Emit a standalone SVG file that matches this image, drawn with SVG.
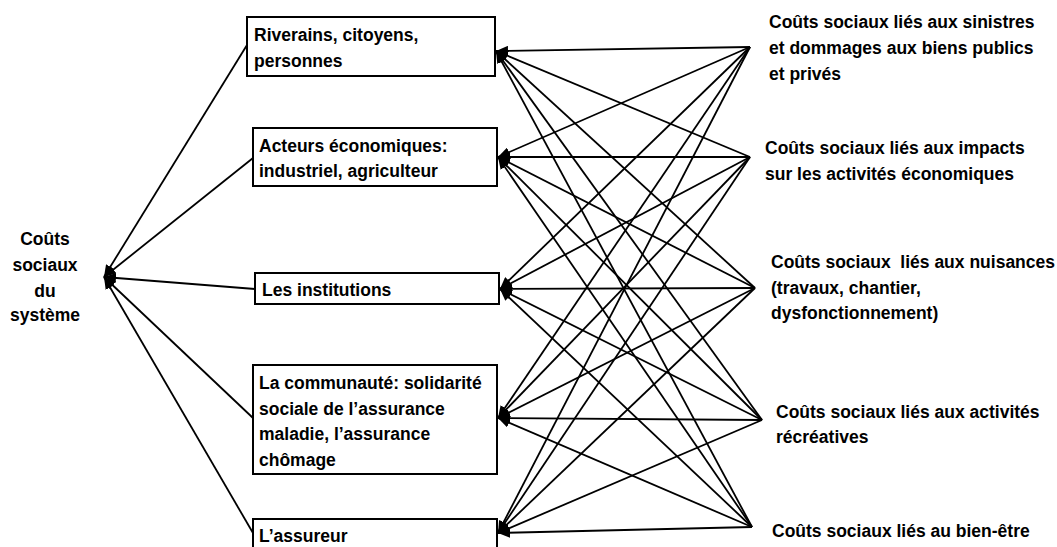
<svg xmlns="http://www.w3.org/2000/svg" width="1057" height="547" viewBox="0 0 1057 547">
<style>
text{font-family:"Liberation Sans",Arial,sans-serif;font-weight:bold;font-size:17.5px;fill:#000}
.box{fill:#fff;stroke:#000;stroke-width:2}
.c line{stroke:#000;stroke-width:1.8;marker-end:url(#ah)}
</style>
<defs>
<marker id="ah" markerUnits="userSpaceOnUse" markerWidth="12" markerHeight="10" refX="12" refY="5" orient="auto">
<path d="M0,0 L12,5 L0,10 z" fill="#000"/>
</marker>
</defs>
<rect width="1057" height="547" fill="#fff"/>
<g id="connectors" class="c">
<line x1="247" y1="45" x2="104" y2="277"/>
<line x1="253" y1="158" x2="104" y2="277"/>
<line x1="255" y1="289" x2="104" y2="277"/>
<line x1="253" y1="418" x2="104" y2="277"/>
<line x1="253" y1="533" x2="104" y2="277"/>
<line x1="750" y1="47" x2="496" y2="51"/>
<line x1="750" y1="47" x2="498" y2="157"/>
<line x1="750" y1="47" x2="500" y2="289"/>
<line x1="750" y1="47" x2="498" y2="418"/>
<line x1="750" y1="47" x2="498" y2="533"/>
<line x1="750" y1="157" x2="496" y2="51"/>
<line x1="750" y1="157" x2="498" y2="157"/>
<line x1="750" y1="157" x2="500" y2="289"/>
<line x1="750" y1="157" x2="498" y2="418"/>
<line x1="750" y1="157" x2="498" y2="533"/>
<line x1="755" y1="288" x2="496" y2="51"/>
<line x1="755" y1="288" x2="498" y2="157"/>
<line x1="755" y1="288" x2="500" y2="289"/>
<line x1="755" y1="288" x2="498" y2="418"/>
<line x1="755" y1="288" x2="498" y2="533"/>
<line x1="762" y1="420" x2="496" y2="51"/>
<line x1="762" y1="420" x2="498" y2="157"/>
<line x1="762" y1="420" x2="500" y2="289"/>
<line x1="762" y1="420" x2="498" y2="418"/>
<line x1="762" y1="420" x2="498" y2="533"/>
<line x1="752" y1="527" x2="496" y2="51"/>
<line x1="752" y1="527" x2="498" y2="157"/>
<line x1="752" y1="527" x2="500" y2="289"/>
<line x1="752" y1="527" x2="498" y2="418"/>
<line x1="752" y1="527" x2="498" y2="533"/>
</g>
<g id="root">
<text text-anchor="middle"><tspan x="45" y="245">Coûts</tspan><tspan x="45" y="271">sociaux</tspan><tspan x="45" y="297">du</tspan><tspan x="45" y="321">système</tspan></text>
</g>
<g id="n1">
<rect class="box" x="247" y="17" width="248" height="59"/>
<text><tspan x="254" y="41">Riverains, citoyens,</tspan><tspan x="254" y="67">personnes</tspan></text>
</g>
<g id="n2">
<rect class="box" x="253" y="128" width="244" height="58"/>
<text><tspan x="259" y="152">Acteurs économiques:</tspan><tspan x="259" y="177">industriel, agriculteur</tspan></text>
</g>
<g id="n3">
<rect class="box" x="255" y="273" width="244" height="31"/>
<text x="262" y="296">Les institutions</text>
</g>
<g id="n4">
<rect class="box" x="253" y="365" width="244" height="109"/>
<text><tspan x="259" y="389">La communauté: solidarité</tspan><tspan x="259" y="415">sociale de l’assurance</tspan><tspan x="259" y="440">maladie, l’assurance</tspan><tspan x="259" y="466">chômage</tspan></text>
</g>
<g id="n5">
<rect class="box" x="253" y="519" width="244" height="40"/>
<text x="259" y="542">L’assureur</text>
</g>
<g id="s1">
<text><tspan x="769" y="28">Coûts sociaux liés aux sinistres</tspan><tspan x="769" y="54">et dommages aux biens publics</tspan><tspan x="769" y="80">et privés</tspan></text>
</g>
<g id="s2">
<text><tspan x="765" y="154">Coûts sociaux liés aux impacts</tspan><tspan x="765" y="180">sur les activités économiques</tspan></text>
</g>
<g id="s3">
<text xml:space="preserve"><tspan x="771" y="268">Coûts sociaux  liés aux nuisances</tspan><tspan x="771" y="294">(travaux, chantier,</tspan><tspan x="771" y="319">dysfonctionnement)</tspan></text>
</g>
<g id="s4">
<text><tspan x="776" y="418">Coûts sociaux liés aux activités</tspan><tspan x="776" y="443">récréatives</tspan></text>
</g>
<g id="s5">
<text x="772" y="537">Coûts sociaux liés au bien-être</text>
</g>
</svg>
